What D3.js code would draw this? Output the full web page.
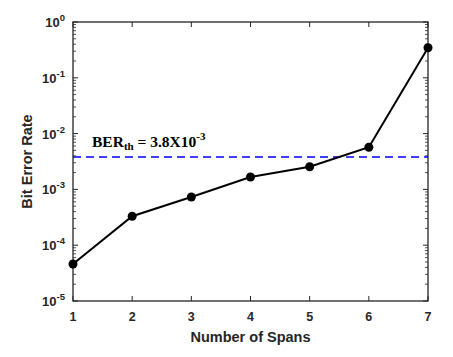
<!DOCTYPE html>
<html><head><meta charset="utf-8">
<script src="https://cdn.jsdelivr.net/npm/d3@7"></script>
<style>body{margin:0;background:#fff}svg{display:block}</style>
</head><body>
<script>
const spans = [1, 2, 3, 4, 5, 6, 7];
const ber = [4.6e-5, 3.3e-4, 7.3e-4, 1.67e-3, 2.55e-3, 5.7e-3, 0.345];
const berTh = 3.8e-3;
const xTicks = [1, 2, 3, 4, 5, 6, 7];
const yExps = [0, -1, -2, -3, -4, -5];

const W = 453, H = 357;
const m = {left: 73, right: 25, top: 22, bottom: 56};
const svg = d3.select("body").append("svg").attr("width", W).attr("height", H);
const x = d3.scaleLinear().domain([1, 7]).range([m.left, W - m.right]);
const y = d3.scaleLog().domain([1e-5, 1]).range([H - m.bottom, m.top]);
const axCol = "#262626";

// minor ticks
const minor = [];
for (let e = -5; e < 0; e++) for (let k = 2; k <= 9; k++) minor.push(k * Math.pow(10, e));
const g = svg.append("g");
minor.forEach(v => {
  g.append("line").attr("x1", x(1)).attr("x2", x(1) + 3).attr("y1", y(v)).attr("y2", y(v)).attr("stroke", axCol).attr("stroke-width", 0.8);
  g.append("line").attr("x1", x(7)).attr("x2", x(7) - 3).attr("y1", y(v)).attr("y2", y(v)).attr("stroke", axCol).attr("stroke-width", 0.8);
});
yExps.forEach(e => {
  const v = Math.pow(10, e);
  g.append("line").attr("x1", x(1)).attr("x2", x(1) + 5).attr("y1", y(v)).attr("y2", y(v)).attr("stroke", axCol);
  g.append("line").attr("x1", x(7)).attr("x2", x(7) - 5).attr("y1", y(v)).attr("y2", y(v)).attr("stroke", axCol);
  const t = g.append("text").attr("x", x(1) - 8).attr("y", y(v) + 5).attr("text-anchor", "end")
    .attr("font-family", "Liberation Sans, Arial").attr("font-weight", "bold").attr("font-size", 13).attr("fill", axCol);
  t.append("tspan").text("10");
  t.append("tspan").attr("dy", -6).attr("font-size", 9.5).text(e === 0 ? "0" : "-" + (-e));
});
xTicks.forEach(v => {
  g.append("line").attr("x1", x(v)).attr("x2", x(v)).attr("y1", y(1e-5)).attr("y2", y(1e-5) - 5).attr("stroke", axCol);
  g.append("line").attr("x1", x(v)).attr("x2", x(v)).attr("y1", y(1)).attr("y2", y(1) + 5).attr("stroke", axCol);
  g.append("text").attr("x", x(v)).attr("y", y(1e-5) + 20).attr("text-anchor", "middle")
    .attr("font-family", "Liberation Sans, Arial").attr("font-weight", "bold").attr("font-size", 12.5).attr("fill", axCol).text(v);
});
// box
svg.append("rect").attr("x", x(1)).attr("y", y(1)).attr("width", x(7) - x(1)).attr("height", y(1e-5) - y(1))
  .attr("fill", "none").attr("stroke", axCol).attr("stroke-width", 1.3);

// threshold
svg.append("line").attr("x1", x(1)).attr("x2", x(7)).attr("y1", y(berTh)).attr("y2", y(berTh))
  .attr("stroke", "#0000ff").attr("stroke-width", 1.5).attr("stroke-dasharray", "8,5");

const lbl = svg.append("text").attr("x", 92).attr("y", 147).attr("font-family", "Liberation Serif, Times New Roman")
  .attr("font-weight", "bold").attr("font-size", 15.5).attr("fill", "#000");
lbl.append("tspan").text("BER");
lbl.append("tspan").attr("dy", 3).attr("font-size", 11).text("th");
lbl.append("tspan").attr("dy", -3).text(" = 3.8X10");
lbl.append("tspan").attr("dy", -7).attr("font-size", 11).text("-3");

// data line
const line = d3.line().x((d, i) => x(spans[i])).y(d => y(d));
svg.append("path").datum(ber).attr("d", line).attr("fill", "none").attr("stroke", "#000").attr("stroke-width", 2);
svg.selectAll("circle.pt").data(ber).enter().append("circle").attr("class", "pt")
  .attr("cx", (d, i) => x(spans[i])).attr("cy", d => y(d)).attr("r", 4.5).attr("fill", "#000");

// axis labels
svg.append("text").attr("x", (x(1) + x(7)) / 2).attr("y", 342).attr("text-anchor", "middle")
  .attr("font-family", "Liberation Sans, Arial").attr("font-weight", "bold").attr("font-size", 14.5).attr("fill", axCol).text("Number of Spans");
svg.append("text").attr("transform", `translate(32,${(y(1) + y(1e-5)) / 2}) rotate(-90)`).attr("text-anchor", "middle")
  .attr("font-family", "Liberation Sans, Arial").attr("font-weight", "bold").attr("font-size", 14.5).attr("fill", axCol).text("Bit Error Rate");
</script>
</body></html>
